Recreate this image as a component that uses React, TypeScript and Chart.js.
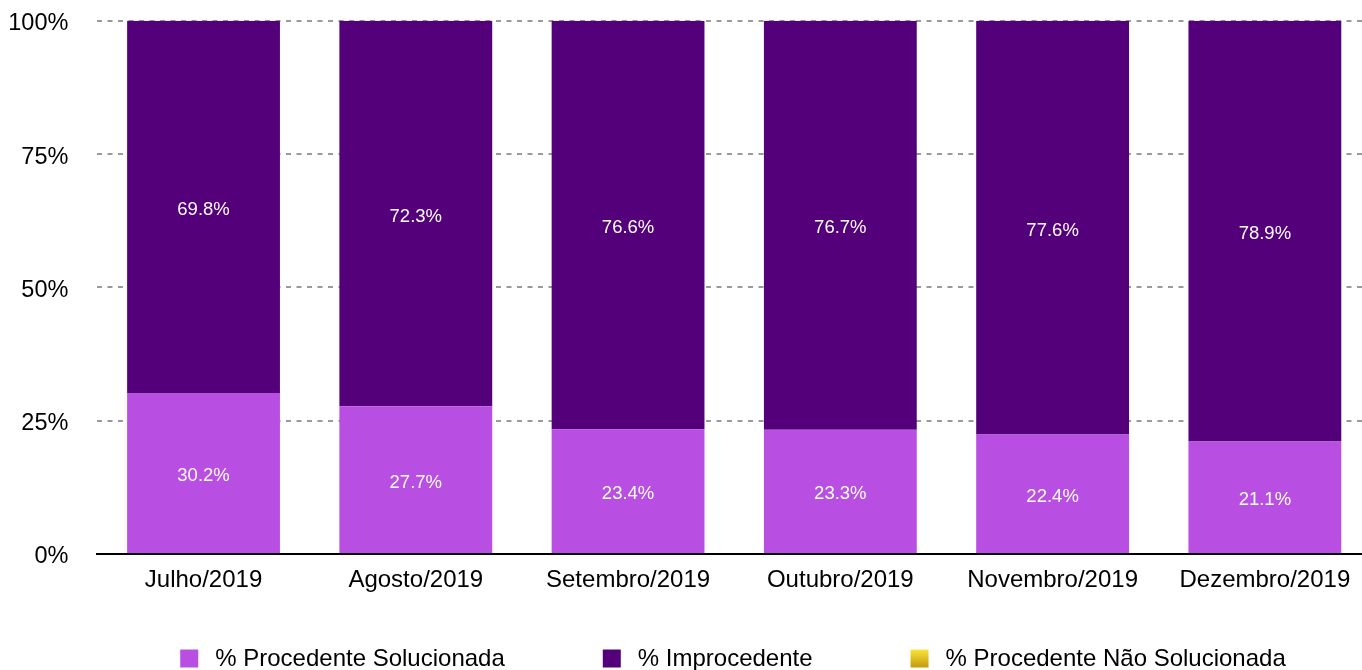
import React, { useEffect, useRef } from "react";
import { Chart, registerables } from "chart.js";

Chart.register(...registerables);

const categories = [
  "Julho/2019",
  "Agosto/2019",
  "Setembro/2019",
  "Outubro/2019",
  "Novembro/2019",
  "Dezembro/2019",
];
const procedenteSolucionada = [30.2, 27.7, 23.4, 23.3, 22.4, 21.1];
const improcedente = [69.8, 72.3, 76.6, 76.7, 77.6, 78.9];
const procedenteNaoSolucionada = [0, 0, 0, 0, 0, 0];
const yTickValues = [0, 25, 50, 75, 100];
const seriesLabels = [
  "% Procedente Solucionada",
  "% Improcedente",
  "% Procedente Não Solucionada",
];

const FONT = '"Liberation Sans", Arial, Helvetica, sans-serif';

const dataLabelPlugin = {
  id: "dataLabels",
  afterDatasetsDraw(chart: any) {
    const ctx = chart.ctx;
    ctx.save();
    ctx.font = `18.5px ${FONT}`;
    ctx.fillStyle = "#ffffff";
    ctx.textAlign = "center";
    ctx.textBaseline = "middle";
    chart.data.datasets.forEach((ds: any, di: number) => {
      const meta = chart.getDatasetMeta(di);
      meta.data.forEach((bar: any, i: number) => {
        const v = ds.data[i];
        if (!v) return;
        const y = (bar.y + bar.base) / 2;
        ctx.fillText(v.toFixed(1) + "%", bar.x, y + 3);
      });
    });
    ctx.restore();
  },
};

const legendPlugin = {
  id: "customLegend",
  afterDraw(chart: any) {
    const ctx = chart.ctx;
    ctx.save();
    ctx.font = `24px ${FONT}`;
    ctx.textBaseline = "middle";
    ctx.textAlign = "left";
    const box = 18;
    const gapText = 17;
    const gapItem = 98;
    const items = chart.data.datasets.map((ds: any) => ({
      ds,
      w: box + gapText + ctx.measureText(ds.label).width,
    }));
    const total =
      items.reduce((s: number, it: any) => s + it.w, 0) +
      gapItem * (items.length - 1);
    let x = (chart.width - total) / 2;
    const cy = chart.height - 11.5;
    items.forEach((it: any, idx: number) => {
      let fill: any = it.ds.backgroundColor;
      if (idx === 2) {
        const g = ctx.createLinearGradient(0, cy - box / 2, 0, cy + box / 2);
        g.addColorStop(0, "#F9E53A");
        g.addColorStop(1, "#C5980F");
        fill = g;
      }
      ctx.fillStyle = fill;
      ctx.fillRect(x, cy - box / 2, box, box);
      ctx.fillStyle = "#000000";
      ctx.fillText(it.ds.label, x + box + gapText, cy + 1);
      x += it.w + gapItem;
    });
    ctx.restore();
  },
};

export default function App() {
  const canvasRef = useRef<HTMLCanvasElement | null>(null);

  useEffect(() => {
    if (!canvasRef.current) return;
    const chart = new Chart(canvasRef.current, {
      type: "bar",
      data: {
        labels: categories,
        datasets: [
          {
            label: seriesLabels[0],
            data: procedenteSolucionada,
            backgroundColor: "#B94EE2",
          },
          {
            label: seriesLabels[1],
            data: improcedente,
            backgroundColor: "#54007B",
          },
          {
            label: seriesLabels[2],
            data: procedenteNaoSolucionada,
            backgroundColor: "#E2BE22",
          },
        ],
      },
      options: {
        responsive: false,
        animation: false,
        layout: { padding: { top: 20.7, right: 95, bottom: 66, left: 0 } },
        plugins: {
          legend: { display: false },
          tooltip: { enabled: false },
        },
        scales: {
          x: {
            stacked: true,
            grid: { display: false, drawTicks: false },
            border: { display: true, color: "#000000", width: 2 },
            ticks: {
              color: "#000000",
              font: { family: FONT, size: 24 },
              padding: 12,
              maxRotation: 0,
              autoSkip: false,
            },
            afterFit: (s: any) => {
              s.height = 50;
            },
          },
          y: {
            stacked: true,
            min: 0,
            max: 100,
            afterBuildTicks: (s: any) => {
              s.ticks = yTickValues.map((v) => ({ value: v }));
            },
            ticks: {
              callback: (v: any) => v + "%",
              color: "#000000",
              font: { family: FONT, size: 23.5 },
              padding: 29,
              labelOffset: 3,
            },
            grid: { color: "#9a9a9a", lineWidth: 2, drawTicks: false },
            border: { display: false, dash: [5, 5.5] },
            afterFit: (s: any) => {
              s.width = 97.4;
              s.paddingTop = 0;
              s.paddingBottom = 0;
            },
          },
        },
      },
      plugins: [dataLabelPlugin, legendPlugin],
    } as any);
    return () => chart.destroy();
  }, []);

  return (
    <div
      style={{
        position: "fixed",
        left: 0,
        top: 0,
        width: 1362,
        height: 670,
        overflow: "hidden",
        background: "#ffffff",
      }}
    >
      <canvas
        ref={canvasRef}
        width={1466}
        height={670}
        style={{ display: "block", width: 1466, height: 670 }}
      />
    </div>
  );
}
